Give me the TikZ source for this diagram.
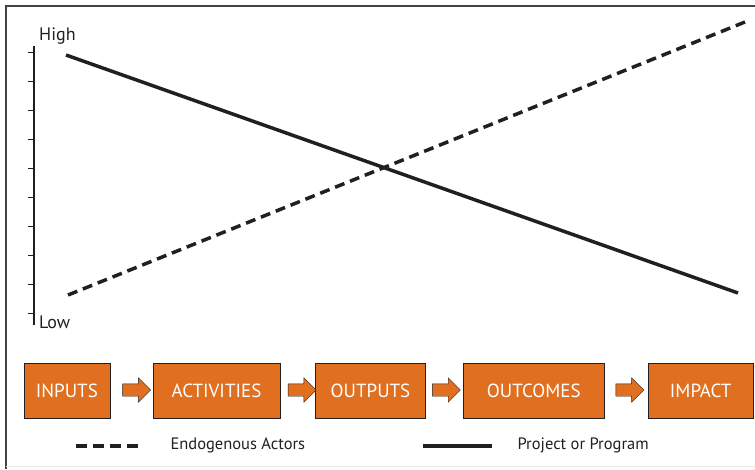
\documentclass[tikz,border=0pt]{standalone}
\usepackage{fontspec}
\setmainfont{PT Sans}
\usetikzlibrary{positioning,shapes.arrows}

\definecolor{stageorange}{HTML}{E07020}
\definecolor{inkgray}{HTML}{231F20}

\tikzset{
  stagebox/.style={draw=inkgray, fill=stageorange, text=white, minimum height=55pt,
    inner sep=0pt, font=\fontsize{19}{19}\selectfont},
  stagearrow/.style={single arrow, draw=inkgray, fill=stageorange, minimum height=28pt,
    single arrow head extend=6pt, inner sep=0pt},
  trend/.style={line width=3.5pt, inkgray},
  legendtext/.style={anchor=west, text=inkgray, font=\fontsize{16.5}{16.5}\selectfont},
  axistext/.style={anchor=west, text=inkgray, font=\fontsize{18}{18}\selectfont, inner sep=0pt}
}

\begin{document}
\begin{tikzpicture}[x=1pt,y=-1pt]
  \useasboundingbox (0,0) rectangle (755,469);
  % Frame
  \draw[inkgray!85, line width=2pt] (6,469) -- (6,6) -- (755,6);
  \draw[black!8] (6,466.5) -- (755,466.5);
  % Axis
  \draw[inkgray, line width=1.3pt] (34,46) -- (34,325);
  \foreach \t in {0,...,9}
    \draw[inkgray] (28,{52+29*\t}) -- (34,{52+29*\t});
  \node[axistext] (high) at (39,36) {High};
  \node[axistext] (low) at (39,322) {Low};
  % Trend lines
  \draw[trend] (66,55) -- (738,293);
  \draw[trend, dash pattern=on 10pt off 6pt] (68,295) -- (745,22);
  % Results chain
  \node[stagebox, minimum width=86pt] (inputs) at (66.9,391) {INPUTS};
  \node[stagebox, minimum width=127pt] (activities) at (216.5,391) {ACTIVITIES};
  \node[stagebox, minimum width=110pt] (outputs) at (370.5,391) {OUTPUTS};
  \node[stagebox, minimum width=141pt] (outcomes) at (533.8,391) {OUTCOMES};
  \node[stagebox, minimum width=105pt] (impact) at (700.7,391) {IMPACT};
  \node[stagearrow] (arr1) at (133.5,390) {\rule{0pt}{12pt}};
  \node[stagearrow] (arr2) at (299,390) {\rule{0pt}{12pt}};
  \node[stagearrow] (arr3) at (443.3,390) {\rule{0pt}{12pt}};
  \node[stagearrow] (arr4) at (626.7,390) {\rule{0pt}{12pt}};
  % Legend
  \coordinate (dashA) at (76,446);
  \coordinate (dashB) at (144,446);
  \coordinate (solidA) at (423,446);
  \coordinate (solidB) at (492,446);
  \draw[trend, dash pattern=on 11pt off 6pt] (dashA) -- (dashB);
  \node[legendtext] (endo) at (167,445) {Endogenous Actors};
  \draw[trend] (solidA) -- (solidB);
  \node[legendtext] (proj) at (514,445) {Project or Program};
\end{tikzpicture}
\end{document}
